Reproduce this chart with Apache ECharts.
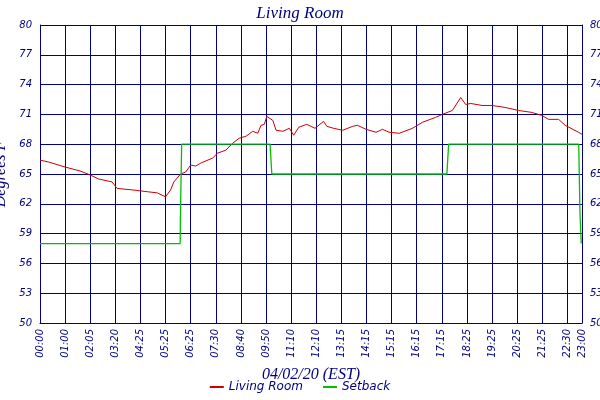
<!DOCTYPE html>
<html>
<head>
<meta charset="utf-8">
<script src="https://cdn.jsdelivr.net/npm/echarts@6/dist/echarts.min.js"></script>
</head>
<body style="margin:0">
<div id="main" style="width:600px;height:400px"></div>
<script>
var tickLabels = ['00:00','01:00','02:05','03:20','04:25','05:25','06:25','07:30','08:40','09:50','11:10',
  '12:10','13:15','14:15','15:15','16:15','17:15','18:25','19:25','20:25','21:25','22:30','23:00'];
var tickPos = [0,1,2,3,4,5,6,7,8,9,10,11,12,13,14,15,16,17,18,19,20,21,21.58];
// living room temperature: [axis position, degrees F]
var livingRoom = [[0,66.4],[0.35,66.2],[1,65.7],[1.6,65.3],[2,64.9],[2.33,64.5],[2.87,64.2],[3.07,63.55],
  [3.67,63.4],[4.33,63.2],[4.67,63.1],[5,62.7],[5.2,63.4],[5.33,64.2],[5.6,65.0],[5.8,65.2],[6,65.9],
  [6.2,65.8],[6.4,66.1],[6.87,66.6],[7.07,67.1],[7.4,67.4],[7.67,68.1],[7.93,68.6],[8.2,68.8],[8.47,69.3],
  [8.67,69.1],[8.8,69.9],[8.93,70.0],[9.03,70.8],[9.27,70.4],[9.4,69.4],[9.67,69.3],[9.93,69.6],[10.1,68.9],
  [10.3,69.7],[10.36,69.8],[10.62,70.0],[10.95,69.6],[11.29,70.3],[11.42,69.8],[11.69,69.6],[12.05,69.4],
  [12.45,69.8],[12.64,69.9],[12.98,69.5],[13.38,69.2],[13.64,69.5],[13.9,69.2],[14.3,69.1],[14.83,69.6],
  [15.22,70.2],[15.75,70.7],[16.02,71.0],[16.42,71.4],[16.75,72.7],[16.95,72.0],[17.15,72.1],[17.6,71.9],
  [17.99,71.9],[18.52,71.7],[19.05,71.4],[19.58,71.2],[19.98,70.9],[20.25,70.5],[20.65,70.5],[20.91,69.9],
  [21.44,69.2],[21.58,69.0]];
var setback = [[0,58],[5.58,58],[5.59,60.6],[5.62,65],[5.64,68],[9.16,68],[9.23,65],[16.2,65],[16.27,68],
  [21.45,68],[21.5,61],[21.55,58]];

var navy = '#000080';
var lbl = {color: navy, fontStyle: 'italic', fontSize: 10, fontFamily: 'DejaVu Sans'};
var chart = echarts.init(document.getElementById('main'));
chart.setOption({
  animation: false,
  backgroundColor: '#fff',
  title: {text: 'Living Room', left: 'center', top: 0,
    textStyle: {color: navy, fontStyle: 'italic', fontSize: 17, fontWeight: 'normal', fontFamily: 'Liberation Serif'}},
  grid: {left: 40, right: 18, top: 25, bottom: 77, outerBoundsMode: 'none', containLabel: false},
  legend: {bottom: 2, left: 'center', itemWidth: 14, itemHeight: 2, icon: 'rect', itemGap: 20,
    textStyle: {color: navy, fontStyle: 'italic', fontSize: 12, fontFamily: 'DejaVu Sans'},
    data: ['Living Room', 'Setback']},
  xAxis: {type: 'value', min: 0, max: 21.58, interval: 1, name: '04/02/20 (EST)', nameLocation: 'middle', nameGap: 44,
    nameTextStyle: {color: navy, fontStyle: 'italic', fontSize: 16, fontFamily: 'Liberation Serif'},
    axisLine: {lineStyle: {color: navy}},
    axisTick: {show: false},
    splitLine: {show: true, lineStyle: {color: navy, width: 1}},
    axisLabel: Object.assign({rotate: 90, customValues: tickPos, margin: 6,
      formatter: function (v) { return tickLabels[tickPos.indexOf(v)]; }}, lbl)},
  yAxis: [
    {type: 'value', min: 50, max: 80, interval: 3, name: 'Degrees F', nameLocation: 'middle', nameGap: 26,
      nameTextStyle: {color: navy, fontStyle: 'italic', fontSize: 16, fontFamily: 'Liberation Serif'},
      axisLine: {show: true, lineStyle: {color: navy}}, axisTick: {show: false},
      splitLine: {lineStyle: {color: navy}}, axisLabel: lbl},
    {type: 'value', min: 50, max: 80, interval: 3, position: 'right',
      axisLine: {show: true, lineStyle: {color: navy}}, axisTick: {show: false},
      splitLine: {show: false}, axisLabel: lbl}
  ],
  series: [
    {name: 'Living Room', type: 'line', data: livingRoom, showSymbol: false, color: '#cc0000',
      lineStyle: {width: 1}},
    {name: 'Setback', type: 'line', data: setback, showSymbol: false, color: '#00c000',
      lineStyle: {width: 1.3}}
  ]
});
</script>
</body>
</html>
